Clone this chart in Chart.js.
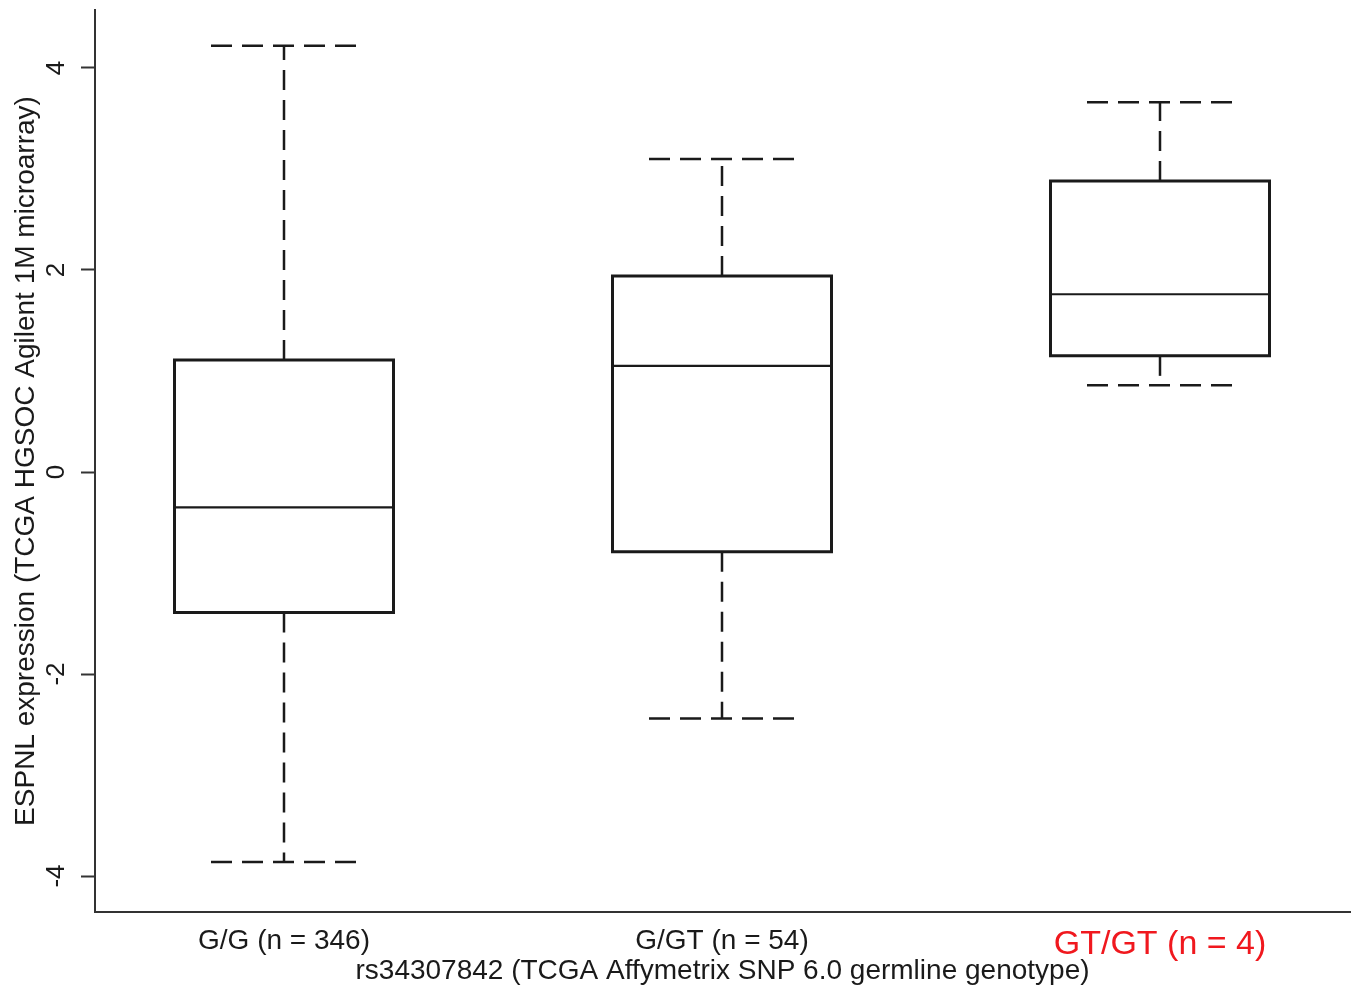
<!DOCTYPE html>
<html>
<head>
<meta charset="utf-8">
<title>ESPNL expression by rs34307842 genotype</title>
<script src="https://cdn.jsdelivr.net/npm/chart.js@4.4.1/dist/chart.umd.min.js"></script>
<style>
  html, body { margin: 0; padding: 0; background: #fff; }
  #wrap { width: 1358px; height: 994px; }
</style>
</head>
<body>
<div id="wrap"><canvas id="chart" width="1358" height="994"></canvas></div>
<script>
// Genotype groups and their box-plot summaries
const categories = ['G/G (n = 346)', 'G/GT (n = 54)', 'GT/GT (n = 4)'];
const whiskerLow = [-3.86, -2.44, 0.86];
const q1 = [-1.39, -0.79, 1.15];
const median = [-0.35, 1.05, 1.76];
const q3 = [1.11, 1.94, 2.88];
const whiskerHigh = [4.22, 3.10, 3.66];
const yTicks = [-4, -2, 0, 2, 4];

const yTitle = 'ESPNL expression (TCGA HGSOC Agilent 1M microarray)';
const xTitle = 'rs34307842 (TCGA Affymetrix SNP 6.0 germline genotype)';

const BOX_HALF = 0.25;
const CAP_HALF = 1 / 6;
const INK = '#1a1a1a';
const AXIS = '#333';
const RED = 'rgb(240, 24, 30)';
const FONT = "'Liberation Sans', Arial, Helvetica, sans-serif";

const xPos = categories.map((c, i) => i + 1);

function segment(points, dashed, width) {
    return {
        data: points,
        showLine: true,
        pointRadius: 0,
        pointHoverRadius: 0,
        borderColor: INK,
        borderWidth: width,
        borderDash: dashed ? [20, 10] : [],
        borderCapStyle: 'butt',
        borderJoinStyle: 'miter',
        fill: false,
        tension: 0
    };
}

function buildDatasets() {
    const sets = [];
    xPos.forEach((x, i) => {
        // box
        const box = segment([
            { x: x - BOX_HALF, y: q1[i] },
            { x: x + BOX_HALF, y: q1[i] },
            { x: x + BOX_HALF, y: q3[i] },
            { x: x - BOX_HALF, y: q3[i] },
            { x: x - BOX_HALF, y: q1[i] }
        ], false, 3);
        box.borderCapStyle = 'square';
        sets.push(box);
        // median
        sets.push(segment([{ x: x - BOX_HALF, y: median[i] }, { x: x + BOX_HALF, y: median[i] }], false, 2.2));
        // whiskers, drawn outward from the box
        sets.push(segment([{ x: x, y: q3[i] }, { x: x, y: whiskerHigh[i] }], true, 2.5));
        sets.push(segment([{ x: x, y: q1[i] }, { x: x, y: whiskerLow[i] }], true, 2.5));
        // caps
        const capHi = segment([{ x: x - CAP_HALF, y: whiskerHigh[i] }, { x: x + CAP_HALF, y: whiskerHigh[i] }], true, 2.5);
        const capLo = segment([{ x: x - CAP_HALF, y: whiskerLow[i] }, { x: x + CAP_HALF, y: whiskerLow[i] }], true, 2.5);
        capHi.borderDash = [21, 10];
        capLo.borderDash = [21, 10];
        sets.push(capHi, capLo);
    });
    return sets;
}

const ctx = document.getElementById('chart').getContext('2d');
const chart = new Chart(ctx, {
    type: 'scatter',
    data: { datasets: buildDatasets() },
    options: {
        responsive: false,
        devicePixelRatio: 1,
        animation: false,
        events: [],
        layout: { padding: { top: 10, right: 8, left: 0, bottom: 0 } },
        plugins: {
            legend: { display: false },
            tooltip: { enabled: false }
        },
        scales: {
            x: {
                type: 'linear',
                min: 1 - 189 / 438,
                max: 3 + 190 / 438,
                afterBuildTicks: (scale) => {
                    scale.ticks = xPos.map(v => ({ value: v }));
                },
                afterFit: (scale) => {
                    scale.height = 82;
                    scale.paddingLeft = 0;
                    scale.paddingRight = 0;
                },
                grid: { display: false, drawTicks: false },
                border: { display: true, color: AXIS, width: 2 },
                ticks: {
                    autoSkip: false,
                    maxRotation: 0,
                    minRotation: 0,
                    padding: 12,
                    callback: (v) => categories[v - 1],
                    color: (c) => c.index === 2 ? RED : INK,
                    font: (c) => ({ family: FONT, size: c.index === 2 ? 34 : 28 })
                },
                title: {
                    display: true,
                    text: xTitle,
                    color: INK,
                    font: { family: FONT, size: 28 },
                    padding: { top: 0, bottom: 6 }
                }
            },
            y: {
                type: 'linear',
                min: -4.356,
                max: 4.574,
                afterBuildTicks: (scale) => {
                    scale.ticks = yTicks.map(v => ({ value: v }));
                },
                afterFit: (scale) => {
                    scale.width = 95;
                    scale.paddingTop = 0;
                    scale.paddingBottom = 0;
                },
                grid: {
                    drawOnChartArea: false,
                    drawTicks: true,
                    tickLength: 14,
                    tickWidth: 2,
                    tickColor: AXIS
                },
                border: { display: true, color: AXIS, width: 2 },
                ticks: {
                    autoSkip: false,
                    minRotation: 90,
                    maxRotation: 90,
                    crossAlign: 'center',
                    padding: 13,
                    color: INK,
                    font: { family: FONT, size: 26 },
                    callback: (v) => String(v)
                },
                title: {
                    display: true,
                    text: yTitle,
                    color: INK,
                    font: { family: FONT, size: 28 },
                    padding: { top: 9, bottom: 0 }
                }
            }
        }
    }
});
</script>
</body>
</html>
